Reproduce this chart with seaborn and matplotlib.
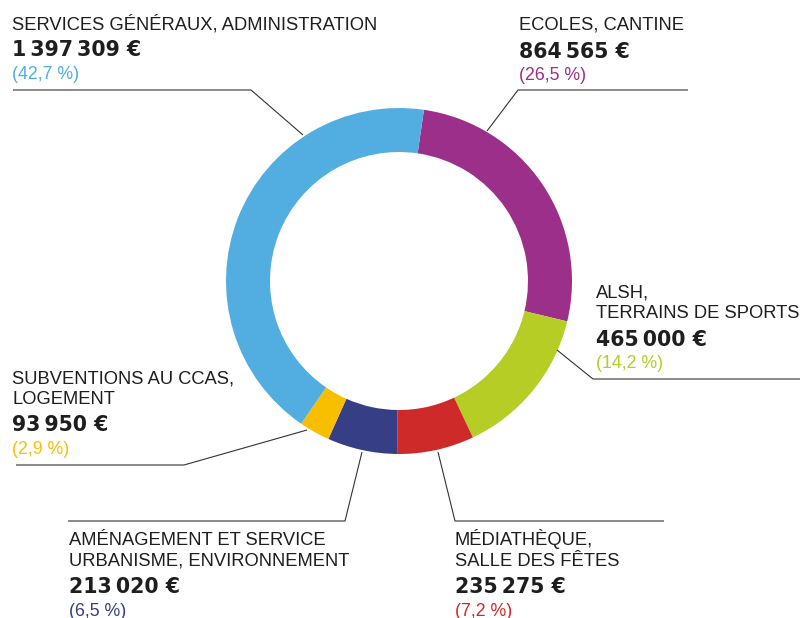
import numpy as np
import pandas as pd
import matplotlib
matplotlib.use("Agg")
import matplotlib.pyplot as plt
import seaborn as sns

# === Data ===
titles = [
    "ECOLES, CANTINE",
    "ALSH,\nTERRAINS DE SPORTS",
    "MÉDIATHÈQUE,\nSALLE DES FÊTES",
    "AMÉNAGEMENT ET SERVICE\nURBANISME, ENVIRONNEMENT",
    "SUBVENTIONS AU CCAS,\nLOGEMENT",
    "SERVICES GÉNÉRAUX, ADMINISTRATION",
]
amounts = [864565, 465000, 235275, 213020, 93950, 1397309]
pct_labels = ["26,5", "14,2", "7,2", "6,5", "2,9", "42,7"]
colors = ["#9C2F89", "#B5CD24", "#CE2A2A", "#363F85", "#F8BE00", "#52ADE0"]

# === Layout (pixels from top-left of an 800x618 canvas) ===
W, H = 800, 618
center = (399, 281)
r_out, ring = 173, 44
start_deg = 81.7

# text block: x, baseline of first title line
blocks = [
    (519, 30),
    (596, 298),
    (455, 545),
    (69, 545),
    (12, 383),
    (12, 29),
]
# leader lines: list of (x, y) points
leaders = [
    [(487, 131), (518, 90), (688, 90)],
    [(557, 350), (593, 379), (800, 379)],
    [(438, 452), (455, 521), (664, 521)],
    [(362, 452), (345, 521), (68, 521)],
    [(307, 430), (184, 465), (16, 465)],
    [(303, 135), (251, 90), (13, 90)],
]

df = pd.DataFrame({"title": titles, "amount": amounts,
                   "pct": pct_labels, "color": colors})

sns.set_theme(style="white")
plt.rcParams["font.family"] = ["Liberation Sans", "DejaVu Sans"]

fig = plt.figure(figsize=(8, 6.18), dpi=100)
ax = fig.add_axes([0, 0, 1, 1])

ax.pie(df["amount"], colors=df["color"], startangle=start_deg, counterclock=False,
       center=(center[0], H - center[1]), radius=r_out,
       wedgeprops=dict(width=ring, linewidth=0, edgecolor="none"))

ax.set_xlim(0, W)
ax.set_ylim(0, H)
ax.set_aspect("equal")
ax.axis("off")

txt = "#1e1e1e"
for (x0, y0), row, pts in zip(blocks, df.itertuples(), leaders):
    lines = row.title.split("\n")
    y = y0
    for i, ln in enumerate(lines):
        ax.text(x0, H - y, ln, fontsize=13.2, color=txt, va="baseline", ha="left")
        if i < len(lines) - 1:
            y += 20.5
    y += 27.5
    val = f"{row.amount:,}".replace(",", "\u2009") + " €"
    ax.text(x0, H - y, val, fontsize=14.8, fontweight="bold", color=txt,
            family=["DejaVu Sans"], va="baseline", ha="left")
    y += 22.5
    ax.text(x0, H - y, f"({row.pct} %)", fontsize=12.8, color=row.color,
            va="baseline", ha="left")

    xs = [p[0] for p in pts]
    ys = [H - p[1] for p in pts]
    ax.plot(xs, ys, color="#333333", lw=0.8, solid_capstyle="butt")

fig.savefig("out.png", dpi=100)
